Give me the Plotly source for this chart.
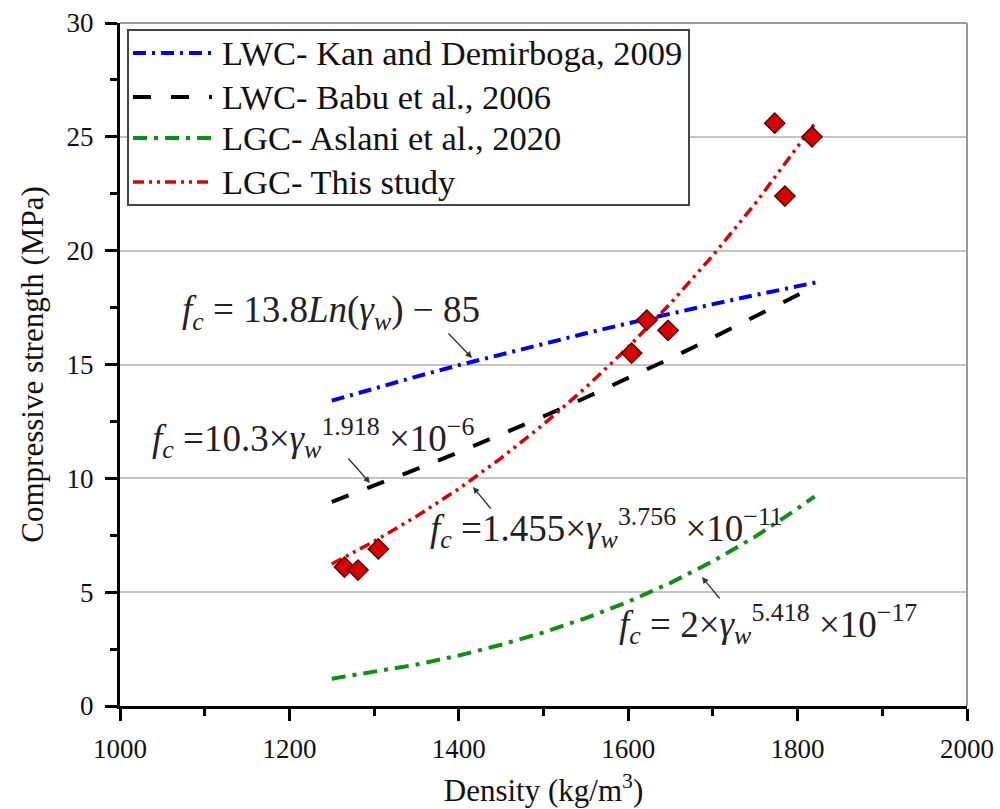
import plotly.graph_objects as go

# ---------------- data ----------------
exp_density = [1265, 1281, 1305, 1604, 1622, 1647, 1773, 1785, 1817]
exp_strength = [6.10, 5.97, 6.90, 15.50, 16.95, 16.50, 25.60, 22.40, 25.00]

curve_density = [1250, 1300, 1350, 1400, 1450, 1500, 1550, 1600, 1650, 1700, 1750, 1800, 1820]
kan_density = [1250, 1300, 1350, 1400, 1450, 1500, 1550, 1600, 1650, 1700, 1750, 1800, 1825]
kan_strength = [13.41, 13.95, 14.47, 14.97, 15.45, 15.92, 16.37, 16.81, 17.24, 17.65, 18.05, 18.44, 18.63]
babu_strength = [8.97, 9.67, 10.40, 11.15, 11.92, 12.72, 13.55, 14.40, 15.27, 16.18, 17.10, 18.05, 18.44]
aslani_strength = [1.20, 1.49, 1.82, 2.22, 2.69, 3.23, 3.86, 4.58, 5.41, 6.36, 7.44, 8.67, 9.21]
study_strength = [6.24, 7.23, 8.33, 9.54, 10.89, 12.37, 13.99, 15.76, 17.69, 19.79, 22.07, 24.53, 25.57]

legend_labels = ["LWC- Kan and Demirboga, 2009", "LWC- Babu et al., 2006",
                 "LGC- Aslani et al., 2020", "LGC- This study"]

x_ticks = [1000, 1200, 1400, 1600, 1800, 2000]
y_ticks = [0, 5, 10, 15, 20, 25, 30]

# ---------------- styles ----------------
FONT = "Liberation Serif"
BLUE, BLACK, GREEN, RED = "#0000f0", "#000000", "#109010", "#dd0000"
styles = [
    dict(color=BLUE, width=4, dash="13px,6px,3px,6px"),
    dict(color=BLACK, width=4, dash="18px,20px"),
    dict(color=GREEN, width=4, dash="14px,7px,4px,7px"),
    dict(color=RED, width=3.5, dash="11px,5px,3px,5px,3px,5px"),
]

fig = go.Figure()
fig.add_trace(go.Scatter(x=kan_density, y=kan_strength, mode="lines", line=styles[0], name=legend_labels[0]))
fig.add_trace(go.Scatter(x=curve_density, y=babu_strength, mode="lines", line=styles[1], name=legend_labels[1]))
fig.add_trace(go.Scatter(x=curve_density, y=aslani_strength, mode="lines", line=styles[2], name=legend_labels[2]))
fig.add_trace(go.Scatter(x=curve_density, y=study_strength, mode="lines", line=styles[3], name=legend_labels[3]))
fig.add_trace(go.Scatter(x=exp_density, y=exp_strength, mode="markers", name="Experimental",
                         marker=dict(symbol="diamond", size=15.5, color="#d80000",
                                     line=dict(color="#5a0000", width=1.5))))

# plot area in pixels: x 120..967, y 23..706
L, R, T, B = 120, 967, 23, 706
def px(xp):
    return (xp - L) / (R - L)
def py(yp):
    return (B - yp) / (B - T)

shapes = []
# top and right grey frame
shapes.append(dict(type="line", xref="paper", yref="paper", x0=0, x1=1, y0=1, y1=1,
                   line=dict(color="#9a9a9a", width=2)))
shapes.append(dict(type="line", xref="paper", yref="paper", x0=1, x1=1, y0=0, y1=1,
                   line=dict(color="#9a9a9a", width=2)))
# legend box
shapes.append(dict(type="rect", xref="paper", yref="paper", x0=px(128), x1=px(689), y0=py(205), y1=py(30),
                   line=dict(color="#444444", width=2), fillcolor="white", layer="above"))
legend_y = [53, 97, 138, 182]
annotations = []
for lab, st, ly in zip(legend_labels, styles, legend_y):
    shapes.append(dict(type="line", xref="paper", yref="paper", x0=px(133), x1=px(212), y0=py(ly), y1=py(ly),
                       line=dict(color=st["color"], width=st["width"], dash=st["dash"]), layer="above"))
    annotations.append(dict(xref="paper", yref="paper", x=px(220), y=py(ly), text=lab, showarrow=False,
                            xanchor="left", yanchor="middle", font=dict(family=FONT, size=34.5, color="#111")))

# equations
EQ = 37
eqs = [
    (180, 312, "<i>f</i><sub><i>c</i></sub> = 13.8<i>Ln</i>(<i>γ</i><sub><i>w</i></sub>) − 85"),
    (150, 438, "<i>f</i><sub><i>c</i></sub> =10.3×<i>γ</i><sub><i>w</i></sub><sup>1.918</sup> ×10<sup>−6</sup>"),
    (428, 528, "<i>f</i><sub><i>c</i></sub> =1.455×<i>γ</i><sub><i>w</i></sub><sup>3.756</sup> ×10<sup>−11</sup>"),
    (617, 624, "<i>f</i><sub><i>c</i></sub> = 2×<i>γ</i><sub><i>w</i></sub><sup>5.418</sup> ×10<sup>−17</sup>"),
]
for ex, ey, t in eqs:
    annotations.append(dict(xref="paper", yref="paper", x=px(ex), y=py(ey), text=t, showarrow=False,
                            xanchor="left", yanchor="middle", font=dict(family=FONT, size=EQ, color="#222")))

# arrows (head, tail) in pixels
arrows = [((472, 358), (447, 332)), ((370, 483), (347, 457)), ((473, 487), (492, 510)), ((702, 577), (721, 600))]
for (hx, hy), (tx, ty) in arrows:
    annotations.append(dict(xref="paper", yref="paper", x=px(hx), y=py(hy), ax=tx - hx, ay=ty - hy,
                            axref="pixel", ayref="pixel", text="", showarrow=True, arrowhead=2,
                            arrowsize=1, arrowwidth=1.3, arrowcolor="#333"))

fig.update_layout(
    width=1000, height=809,
    margin=dict(l=L, r=1000 - R, t=T, b=809 - B, autoexpand=False),
    paper_bgcolor="white", plot_bgcolor="white",
    showlegend=False,
    shapes=shapes, annotations=annotations,
    font=dict(family=FONT, color="black"),
)
fig.update_xaxes(range=[1000, 2000], tickvals=x_ticks, ticks="outside", ticklen=12, tickwidth=3,
                 tickcolor="black", showline=True, linecolor="black", linewidth=3, showgrid=False,
                 zeroline=False, automargin=False, ticklabelstandoff=5,
                 tickfont=dict(family=FONT, size=27, color="#111"),
                 minor=dict(dtick=100, ticks="outside", ticklen=7, tickwidth=3, tickcolor="black", showgrid=False),
                 title=dict(text="Density (kg/m<sup>3</sup>)", font=dict(family=FONT, size=31, color="#111"),
                            standoff=16))
fig.update_yaxes(range=[0, 30], tickvals=y_ticks, ticks="outside", ticklen=12, tickwidth=3,
                 tickcolor="black", showline=True, linecolor="black", linewidth=3, showgrid=True,
                 gridcolor="#c4c4c4", gridwidth=2, zeroline=False, automargin=False, ticklabelstandoff=6,
                 tickfont=dict(family=FONT, size=27, color="#111"),
                 minor=dict(dtick=2.5, ticks="outside", ticklen=7, tickwidth=3, tickcolor="black", showgrid=False),
                 title=dict(text="Compressive strength (MPa)", font=dict(family=FONT, size=31, color="#111"),
                            standoff=14))

fig.write_html("out.html")
